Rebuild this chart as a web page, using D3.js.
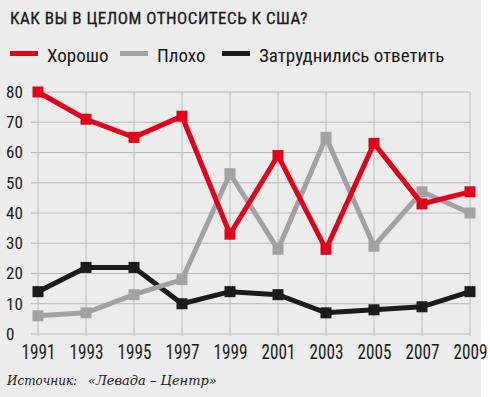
<!DOCTYPE html>
<html>
<head>
<meta charset="utf-8">
<script src="https://cdn.jsdelivr.net/npm/d3@7/dist/d3.min.js"></script>
<style>
  body { margin: 0; background: #fff; }
  svg { display: block; }
  .cond { font-family: "Liberation Sans Narrow", "Roboto Condensed", sans-serif; fill: #1a1a1a; }
</style>
</head>
<body>
<div id="chart"></div>
<script>
const years = [1991, 1993, 1995, 1997, 1999, 2001, 2003, 2005, 2007, 2009];
const good = [80, 71, 65, 72, 33, 59, 28, 63, 43, 47];
const bad = [6, 7, 13, 18, 53, 28, 65, 29, 47, 40];
const unsure = [14, 22, 22, 10, 14, 13, 7, 8, 9, 14];
const yTicks = [0, 10, 20, 30, 40, 50, 60, 70, 80];

const seriesNames = ["Хорошо", "Плохо", "Затруднились ответить"];
const seriesColors = ["#e2001a", "#a2a2a4", "#1b1b1b"];

const width = 490;
const height = 397;

const svg = d3.select("#chart").append("svg")
    .attr("width", width)
    .attr("height", height);

// grey backdrop, white strip at right edge
svg.append("rect").attr("x", 0).attr("y", 0)
    .attr("width", 481).attr("height", height)
    .attr("fill", "#ececec");

svg.append("text").attr("class", "cond")
    .attr("x", 10).attr("y", 24)
    .style("font-size", "17px")
    .style("letter-spacing", "0.5px")
    .style("stroke", "#1a1a1a").style("stroke-width", 0.3)
    .text("КАК ВЫ В ЦЕЛОМ ОТНОСИТЕСЬ К США?");

const x = d3.scalePoint().domain(years).range([38, 470]);
const y = d3.scaleLinear().domain([0, 80]).range([334, 92]);

// grid
const grid = svg.append("g");
grid.selectAll("line.h").data(yTicks).enter().append("line")
    .attr("x1", 31).attr("x2", 470)
    .attr("y1", d => y(d)).attr("y2", d => y(d))
    .attr("stroke", "#b9b9b9").attr("stroke-width", 1);
grid.selectAll("line.v").data(years).enter().append("line")
    .attr("x1", d => x(d)).attr("x2", d => x(d))
    .attr("y1", y(80)).attr("y2", y(0) + 2)
    .attr("stroke", "#b9b9b9").attr("stroke-width", 1);

// y axis labels (left aligned)
const yAxis = svg.append("g").attr("transform", "translate(31,0)")
    .call(d3.axisLeft(y).tickValues(yTicks).tickSize(0));
yAxis.select(".domain").remove();
yAxis.selectAll("text")
    .attr("class", "cond")
    .attr("x", -25)
    .attr("text-anchor", "start")
    .style("font-size", "17px")
    .style("font-family", null);

// x axis labels, condensed
const xAxis = svg.append("g").attr("transform", "translate(0,334)")
    .call(d3.axisBottom(x).tickSize(0).tickPadding(11));
xAxis.select(".domain").remove();
xAxis.selectAll("text")
    .attr("class", "cond")
    .attr("transform", "scale(0.86,1)")
    .style("font-size", "20px")
    .style("font-family", null);

const data = [good, bad, unsure];
const line = d3.line()
    .x((d, i) => x(years[i]))
    .y(d => y(d));

const drawOrder = [2, 1, 0];
drawOrder.forEach(k => {
    const g = svg.append("g");
    g.append("path")
        .datum(data[k])
        .attr("fill", "none")
        .attr("stroke", seriesColors[k])
        .attr("stroke-width", 5)
        .attr("stroke-linejoin", "miter")
        .attr("d", line);
    g.selectAll("rect").data(data[k]).enter().append("rect")
        .attr("x", (d, i) => x(years[i]) - 5.5)
        .attr("y", d => y(d) - 5.5)
        .attr("width", 11).attr("height", 11)
        .attr("fill", seriesColors[k]);
});

// legend
const legendX = [10, 120, 222];
const legend = svg.append("g");
seriesNames.forEach((name, i) => {
    legend.append("rect")
        .attr("x", legendX[i]).attr("y", 51)
        .attr("width", 28).attr("height", 5)
        .attr("fill", seriesColors[i]);
    legend.append("text").attr("class", "cond")
        .attr("x", legendX[i] + 37).attr("y", 62)
        .style("font-size", "19px")
        .text(name);
});

// source
const src = svg.append("g")
    .style("font-family", "'DejaVu Serif', serif")
    .style("font-style", "italic")
    .attr("fill", "#222");
src.append("text").attr("x", 7).attr("y", 385)
    .style("font-size", "12px").text("Источник:");
src.append("text").attr("x", 88).attr("y", 385)
    .style("font-size", "13px").text("«Левада – Центр»");
</script>
</body>
</html>
